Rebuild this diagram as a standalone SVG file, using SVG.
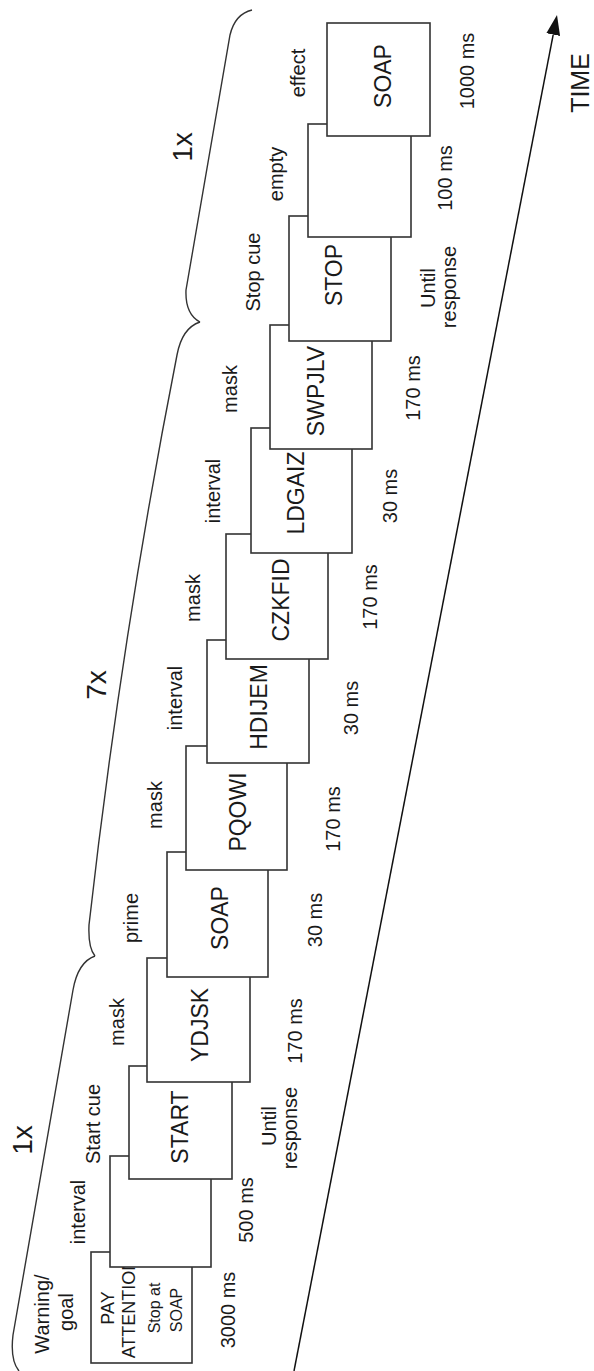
<svg xmlns="http://www.w3.org/2000/svg" width="594" height="1371" viewBox="0 0 594 1371">
<defs>
<style>
.box{fill:#fff;stroke:#333;stroke-width:1.6}
.t{font-family:"Liberation Sans",Arial,sans-serif;fill:#1a1a1a;text-anchor:middle}
.main{font-size:23px}
.small{font-size:16px}
.mid{font-size:18px}
.lab{font-size:20px}
.big{font-size:28px}
.time{font-size:25px}
.brace{fill:none;stroke:#333;stroke-width:1.4}
.axis{fill:none;stroke:#111;stroke-width:1.5}
</style>
<marker id="ah" viewBox="0 -7 20 14" refX="0" refY="0" markerWidth="20" markerHeight="14" markerUnits="userSpaceOnUse" orient="auto">
<path d="M0,-7 L20,0 L0,7 z" fill="#111"/>
</marker>
</defs>
<rect width="594" height="1371" fill="#fff"/>

<g id="connectors">
<path class="axis" d="M294,1371 L553.2,34.6" marker-end="url(#ah)"/>
<path id="brace-start" class="brace" d="M19,1371 Q10,1360 13,1335 L73,990 Q78,962 95,956"/>
<path id="brace-loop" class="brace" d="M200,322 Q182,328 177,355 Q121,640 89,925 Q88,948 95,956"/>
<path id="brace-end" class="brace" d="M252,10 Q235,14 230,35 L186,290 Q185,314 200,322"/>
</g>

<g id="repeat-labels">
<text class="t big" transform="translate(32,1140) rotate(-90)">1x</text>
<text class="t big" transform="translate(106,685) rotate(-90)">7x</text>
<text class="t big" transform="translate(192,147) rotate(-90)">1x</text>
<text class="t time" transform="translate(589,83) rotate(-90)">TIME</text>
</g>

<g id="step1">
<rect class="box" x="91" y="1252" width="101" height="111"/>
<text class="t mid" transform="translate(114,1308) rotate(-90)">PAY</text>
<text class="t mid" transform="translate(135,1308) rotate(-90)">ATTENTION</text>
<text class="t small" transform="translate(160,1308) rotate(-90)">Stop at</text>
<text class="t small" transform="translate(182,1310) rotate(-90)">SOAP</text>
<text class="t lab" transform="translate(49,1314) rotate(-90)">Warning/</text>
<text class="t lab" transform="translate(73,1312) rotate(-90)">goal</text>
<text class="t lab" transform="translate(235,1310) rotate(-90)">3000 ms</text>
</g>

<g id="step2">
<rect class="box" x="110" y="1156" width="101" height="111"/>
<text class="t lab" transform="translate(85,1212) rotate(-90)">interval</text>
<text class="t lab" transform="translate(253,1210) rotate(-90)">500 ms</text>
</g>

<g id="step3">
<rect class="box" x="129" y="1066" width="103" height="113"/>
<text class="t main" transform="translate(188,1127) rotate(-90)">START</text>
<text class="t lab" transform="translate(100,1124) rotate(-90)">Start cue</text>
<text class="t lab" transform="translate(276,1126) rotate(-90)">Until</text>
<text class="t lab" transform="translate(297,1128) rotate(-90)">response</text>
</g>

<g id="step4">
<rect class="box" x="147" y="958" width="103" height="124"/>
<text class="t main" transform="translate(208,1025) rotate(-90)">YDJSK</text>
<text class="t lab" transform="translate(124,1022) rotate(-90)">mask</text>
<text class="t lab" transform="translate(302,1031) rotate(-90)">170 ms</text>
</g>

<g id="step5">
<rect class="box" x="167" y="852" width="101" height="125"/>
<text class="t main" transform="translate(228,918) rotate(-90)">SOAP</text>
<text class="t lab" transform="translate(138,918) rotate(-90)">prime</text>
<text class="t lab" transform="translate(322,920) rotate(-90)">30 ms</text>
</g>

<g id="step6">
<rect class="box" x="186" y="746" width="101" height="124"/>
<text class="t main" transform="translate(246,812) rotate(-90)">PQOWI</text>
<text class="t lab" transform="translate(162,805) rotate(-90)">mask</text>
<text class="t lab" transform="translate(340,819) rotate(-90)">170 ms</text>
</g>

<g id="step7">
<rect class="box" x="207" y="640" width="102" height="123"/>
<text class="t main" transform="translate(267,707) rotate(-90)">HDIJEM</text>
<text class="t lab" transform="translate(182,698) rotate(-90)">interval</text>
<text class="t lab" transform="translate(358,708) rotate(-90)">30 ms</text>
</g>

<g id="step8">
<rect class="box" x="226" y="534" width="102" height="125"/>
<text class="t main" transform="translate(289,600) rotate(-90)">CZKFID</text>
<text class="t lab" transform="translate(200,598) rotate(-90)">mask</text>
<text class="t lab" transform="translate(377,597) rotate(-90)">170 ms</text>
</g>

<g id="step9">
<rect class="box" x="251" y="428" width="101" height="125"/>
<text class="t main" transform="translate(304,493) rotate(-90)">LDGAIZ</text>
<text class="t lab" transform="translate(220,491) rotate(-90)">interval</text>
<text class="t lab" transform="translate(397,496) rotate(-90)">30 ms</text>
</g>

<g id="step10">
<rect class="box" x="270" y="325" width="102" height="124"/>
<text class="t main" transform="translate(324,391) rotate(-90)">SWPJLV</text>
<text class="t lab" transform="translate(237,389) rotate(-90)">mask</text>
<text class="t lab" transform="translate(420,388) rotate(-90)">170 ms</text>
</g>

<g id="step11">
<rect class="box" x="289" y="216" width="102" height="125"/>
<text class="t main" transform="translate(342,275) rotate(-90)">STOP</text>
<text class="t lab" transform="translate(260,272) rotate(-90)">Stop cue</text>
<text class="t lab" transform="translate(435,288) rotate(-90)">Until</text>
<text class="t lab" transform="translate(456,287) rotate(-90)">response</text>
</g>

<g id="step12">
<rect class="box" x="308" y="124" width="103" height="113"/>
<text class="t lab" transform="translate(283,174) rotate(-90)">empty</text>
<text class="t lab" transform="translate(452,178) rotate(-90)">100 ms</text>
</g>

<g id="step13">
<rect class="box" x="327" y="23" width="103" height="113"/>
<text class="t main" transform="translate(391,76) rotate(-90)">SOAP</text>
<text class="t lab" transform="translate(305,73) rotate(-90)">effect</text>
<text class="t lab" transform="translate(474,71) rotate(-90)">1000 ms</text>
</g>
</svg>
